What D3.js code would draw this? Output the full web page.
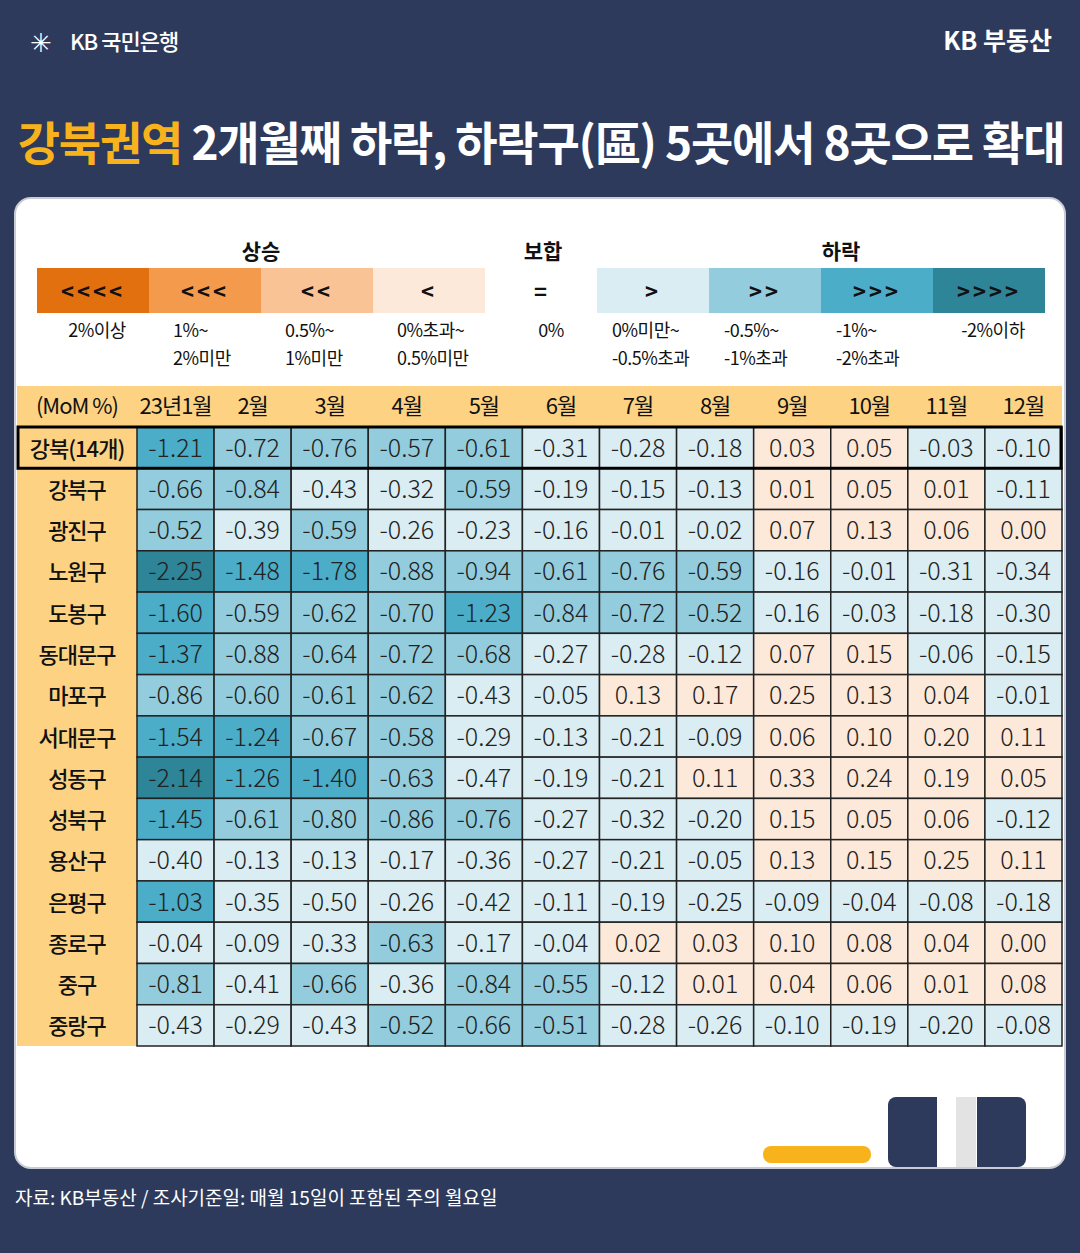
<!DOCTYPE html><html><head><meta charset="utf-8">
<script src="https://cdn.jsdelivr.net/npm/d3@7"></script>
<style>body{margin:0;background:#2d3a5c;font-family:"Noto Sans CJK KR","Noto Sans",sans-serif}</style></head><body>
<svg id="c" width="1080" height="1253"></svg>
<script>
const months=["23년1월","2월","3월","4월","5월","6월","7월","8월","9월","10월","11월","12월"];
const regions=["강북(14개)","강북구","광진구","노원구","도봉구","동대문구","마포구","서대문구","성동구","성북구","용산구","은평구","종로구","중구","중랑구"];
const values=[
[-1.21,-0.72,-0.76,-0.57,-0.61,-0.31,-0.28,-0.18,0.03,0.05,-0.03,-0.10],
[-0.66,-0.84,-0.43,-0.32,-0.59,-0.19,-0.15,-0.13,0.01,0.05,0.01,-0.11],
[-0.52,-0.39,-0.59,-0.26,-0.23,-0.16,-0.01,-0.02,0.07,0.13,0.06,0.00],
[-2.25,-1.48,-1.78,-0.88,-0.94,-0.61,-0.76,-0.59,-0.16,-0.01,-0.31,-0.34],
[-1.60,-0.59,-0.62,-0.70,-1.23,-0.84,-0.72,-0.52,-0.16,-0.03,-0.18,-0.30],
[-1.37,-0.88,-0.64,-0.72,-0.68,-0.27,-0.28,-0.12,0.07,0.15,-0.06,-0.15],
[-0.86,-0.60,-0.61,-0.62,-0.43,-0.05,0.13,0.17,0.25,0.13,0.04,-0.01],
[-1.54,-1.24,-0.67,-0.58,-0.29,-0.13,-0.21,-0.09,0.06,0.10,0.20,0.11],
[-2.14,-1.26,-1.40,-0.63,-0.47,-0.19,-0.21,0.11,0.33,0.24,0.19,0.05],
[-1.45,-0.61,-0.80,-0.86,-0.76,-0.27,-0.32,-0.20,0.15,0.05,0.06,-0.12],
[-0.40,-0.13,-0.13,-0.17,-0.36,-0.27,-0.21,-0.05,0.13,0.15,0.25,0.11],
[-1.03,-0.35,-0.50,-0.26,-0.42,-0.11,-0.19,-0.25,-0.09,-0.04,-0.08,-0.18],
[-0.04,-0.09,-0.33,-0.63,-0.17,-0.04,0.02,0.03,0.10,0.08,0.04,0.00],
[-0.81,-0.41,-0.66,-0.36,-0.84,-0.55,-0.12,0.01,0.04,0.06,0.01,0.08],
[-0.43,-0.29,-0.43,-0.52,-0.66,-0.51,-0.28,-0.26,-0.10,-0.19,-0.20,-0.08]];
const legSymbols=["<<<<","<<<","<<","<","=",">",">>",">>>",">>>>"];
const legLabels=[["2%이상"],["1%~","2%미만"],["0.5%~","1%미만"],["0%초과~","0.5%미만"],["0%"],["0%미만~","-0.5%초과"],["-0.5%~","-1%초과"],["-1%~","-2%초과"],["-2%이하"]];
const legColors=["#e2700f","#f49a4c","#f9c396","#fde9d9","#ffffff","#daedf3","#93cddd","#4badc8","#2e8598"];
const colorScale=d3.scaleThreshold().domain([-2,-1,-0.5,0,0.5,1,2]).range(["#2e8598","#4badc8","#93cddd","#daedf3","#fde9d9","#f9c396","#f49a4c","#e2700f"]);

const svg=d3.select("#c");
svg.append("text").attr("x",70).attr("y",50).attr("fill","#fff").attr("font-size",22).attr("font-weight",500).attr("letter-spacing",-1).text("KB 국민은행");
svg.append("text").attr("x",30).attr("y",52).attr("fill","#fff").attr("font-size",26).text("✳");
svg.append("text").attr("x",1052).attr("y",50).attr("text-anchor","end").attr("fill","#fff").attr("font-size",25).attr("font-weight",700).text("KB 부동산");
const t=svg.append("text").attr("x",541).attr("y",160).attr("text-anchor","middle").attr("font-size",46).attr("font-weight",700).attr("fill","#fff").attr("letter-spacing",-1.2);
t.append("tspan").attr("fill","#f8b31c").text("강북권역 ");
t.append("tspan").text("2개월째 하락, 하락구(區) 5곳에서 8곳으로 확대");
svg.append("rect").attr("x",15).attr("y",198).attr("width",1050).attr("height",970).attr("rx",16).attr("fill","#fff").attr("stroke","#c9ccd3").attr("stroke-width",2);
const lw=112;
const lpos=i=>i<4?37+i*lw:(i==4?541:597+(i-5)*lw);
svg.selectAll(".lr").data(legColors).join("rect").attr("x",(d,i)=>lpos(i)).attr("y",268).attr("width",(d,i)=>i==4?0:lw).attr("height",45).attr("fill",d=>d);
svg.selectAll(".ls").data(legSymbols).join("text").attr("x",(d,i)=>i==4?542:lpos(i)+lw/2).attr("y",300).attr("text-anchor","middle").attr("font-size",22).attr("font-weight",700).attr("fill","#111").attr("letter-spacing",3).text(d=>d);
legLabels.forEach((ls,i)=>{ls.forEach((s,j)=>{
 const anchor=(i==0||i==4||i==8)?"middle":"start";
 const x=i==0?lpos(0)+60:i==4?551:i==8?lpos(8)+60:lpos(i)+(i<4?24:15);
 svg.append("text").attr("x",x).attr("y",337+j*28).attr("text-anchor",anchor).attr("font-size",18).attr("fill","#111").attr("letter-spacing",-0.5).text(s);});});
[["상승",261],["보합",543],["하락",841]].forEach(([s,x])=>svg.append("text").attr("x",x).attr("y",259).attr("text-anchor","middle").attr("font-size",21).attr("font-weight",700).attr("fill","#111").text(s));
const x=d3.scaleBand().domain(months).range([137,1062]);
const y=d3.scaleBand().domain(regions).range([427,1046]);
svg.append("rect").attr("x",17).attr("y",386).attr("width",1045).attr("height",41).attr("fill","#fdd383");
svg.append("rect").attr("x",17).attr("y",427).attr("width",120).attr("height",619).attr("fill","#fdd383");
svg.append("text").attr("x",77).attr("y",414).attr("text-anchor","middle").attr("font-size",22).attr("fill","#111").attr("letter-spacing",-1).text("(MoM %)");
svg.selectAll(".mh").data(months).join("text").attr("x",d=>x(d)+x.bandwidth()/2).attr("y",414).attr("text-anchor","middle").attr("font-size",22).attr("fill","#111").attr("letter-spacing",-1).text(d=>d);
svg.selectAll(".rh").data(regions).join("text").attr("x",77).attr("y",d=>y(d)+y.bandwidth()/2+9).attr("text-anchor","middle").attr("font-size",22).attr("font-weight",500).attr("fill","#111").attr("letter-spacing",-1).text(d=>d);
const cells=[];values.forEach((r,i)=>r.forEach((v,j)=>cells.push({r:regions[i],m:months[j],v})));
const g=svg.append("g");
g.selectAll("rect").data(cells).join("rect").attr("x",d=>x(d.m)).attr("y",d=>y(d.r)).attr("width",x.bandwidth()).attr("height",y.bandwidth()).attr("fill",d=>colorScale(d.v)).attr("stroke","#222").attr("stroke-width",1.5);
g.selectAll("text").data(cells).join("text").attr("x",d=>x(d.m)+x.bandwidth()/2).attr("y",d=>y(d.r)+y.bandwidth()/2+9).attr("text-anchor","middle").attr("font-size",25).attr("font-weight",300).attr("fill","#222").text(d=>d.v.toFixed(2));
svg.append("rect").attr("x",18).attr("y",427).attr("width",1043).attr("height",y.bandwidth()).attr("fill","none").attr("stroke","#000").attr("stroke-width",3);
svg.append("rect").attr("x",763).attr("y",1146).attr("width",108).attr("height",17).attr("rx",8).attr("fill","#f8b31c");
svg.append("rect").attr("x",888).attr("y",1097).attr("width",138).attr("height",70).attr("rx",8).attr("fill","#2d3a5c");
svg.append("rect").attr("x",937).attr("y",1097).attr("width",40).attr("height",70).attr("fill","#fff");
svg.append("rect").attr("x",956).attr("y",1097).attr("width",20).attr("height",70).attr("fill","#e3e3e3");
svg.append("text").attr("x",15).attr("y",1205).attr("font-size",19).attr("fill","#fff").text("자료: KB부동산 / 조사기준일: 매월 15일이 포함된 주의 월요일");
</script></body></html>
